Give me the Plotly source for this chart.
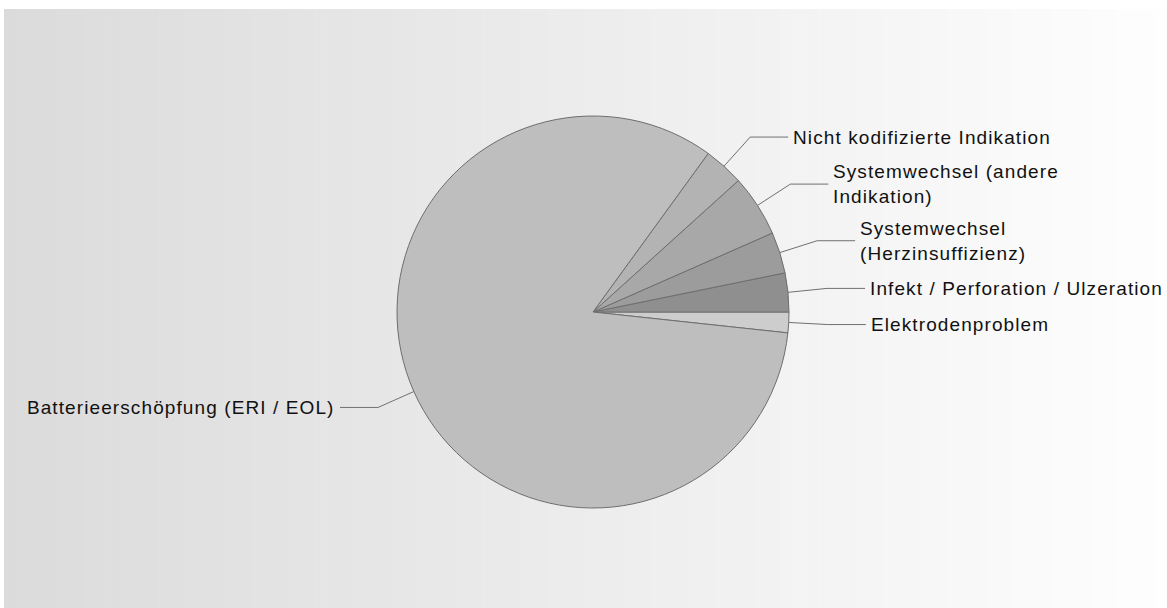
import math
import plotly.graph_objects as go

# ---- data ----
labels = [
    "Elektrodenproblem",
    "Infekt / Perforation / Ulzeration",
    "Systemwechsel<br>(Herzinsuffizienz)",
    "Systemwechsel (andere<br>Indikation)",
    "Nicht kodifizierte Indikation",
    "Batterieerschöpfung (ERI / EOL)",
]
values = [1.7, 3.2, 3.4, 5.1, 3.3, 83.3]
colors = ["#cdcdcd", "#8f8f8f", "#9c9c9c", "#a8a8a8", "#b3b3b3", "#bebebe"]

# ---- layout constants ----
W, H = 1167, 608
CX, CY, R = 593, 312, 196
ELBOW = 1.2
HSEG = 38
FONT = dict(family="Liberation Sans, Arial, sans-serif", size=19, color="#111111")


def px2paper(x, y):
    return x / W, 1 - y / H


fig = go.Figure(
    go.Pie(
        labels=labels,
        values=values,
        sort=False,
        direction="counterclockwise",
        rotation=90,
        marker=dict(colors=colors, line=dict(color="#6e6e6e", width=1)),
        textinfo="none",
        hoverinfo="label+percent",
        domain=dict(x=[(CX - R) / W, (CX + R) / W], y=[1 - (CY + R) / H, 1 - (CY - R) / H]),
        showlegend=False,
    )
)

shapes = []
# background gradient (left gray -> right white)
x0, ytop = 4, 9
n = 90
for i in range(n):
    xa = x0 + (W - x0) * i / n
    xb = x0 + (W - x0) * (i + 1) / n + 0.5
    c = round(219 + (254 - 219) * (i + 0.5) / n)
    col = f"rgb({c},{c},{c})"
    pa = px2paper(xa, ytop)
    pb = px2paper(xb, H)
    shapes.append(dict(type="rect", xref="paper", yref="paper", x0=pa[0], x1=pb[0],
                       y0=pb[1], y1=pa[1], fillcolor=col, line=dict(width=0), layer="below"))

annotations = []
total = sum(values)
start = -values[0] / total * 360.0
for lab, v in zip(labels, values):
    a = v / total * 360.0
    mid = math.radians(start + a / 2)
    start += a
    c, s = math.cos(mid), math.sin(mid)
    p0 = (CX + R * c, CY - R * s)
    p1 = (CX + ELBOW * R * c, CY - ELBOW * R * s)
    side = 1 if c >= 0 else -1
    p2 = (p1[0] + side * HSEG, p1[1])
    q0, q1, q2 = px2paper(*p0), px2paper(*p1), px2paper(*p2)
    shapes.append(dict(type="path", xref="paper", yref="paper",
                       path=f"M {q0[0]} {q0[1]} L {q1[0]} {q1[1]} L {q2[0]} {q2[1]}",
                       line=dict(color="#707070", width=1)))
    tx, ty = px2paper(p2[0] + side * 3, p2[1])
    annotations.append(dict(x=tx, y=ty, xref="paper", yref="paper", text=lab, showarrow=False,
                            xanchor="left" if side > 0 else "right", yanchor="middle",
                            align="left" if side > 0 else "right", font=FONT))

fig.update_layout(
    width=W, height=H,
    margin=dict(l=0, r=0, t=0, b=0),
    paper_bgcolor="white",
    plot_bgcolor="white",
    shapes=shapes,
    annotations=annotations,
)

post = """
document.body.style.margin = '0';
var st = document.createElement('style');
st.innerHTML = 'text.annotation-text { letter-spacing: 1.1px; }';
document.head.appendChild(st);
"""

fig.write_html("out.html", post_script=post, config={"displayModeBar": False})
